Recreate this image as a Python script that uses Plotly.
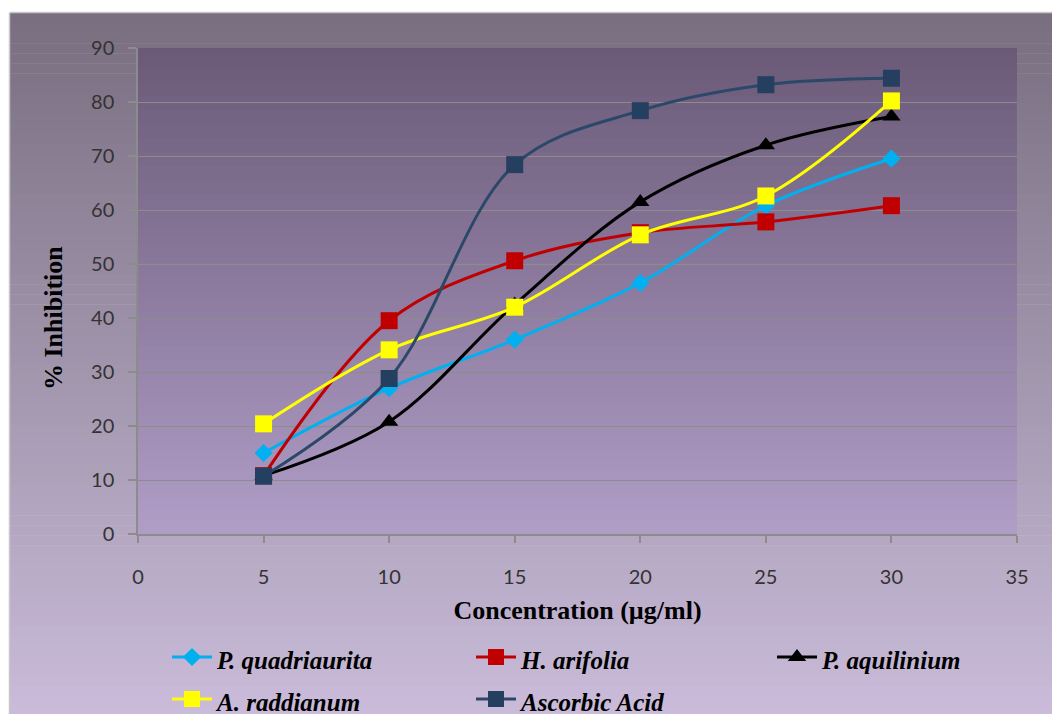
import plotly.graph_objects as go

concentration = [5, 10, 15, 20, 25, 30]
p_quadriaurita = [15.0, 27.0, 36.0, 46.5, 60.8, 69.5]
h_arifolia = [10.8, 39.5, 50.6, 55.8, 57.8, 60.8]
p_aquilinium = [10.8, 20.8, 42.5, 61.5, 72.0, 77.3]
a_raddianum = [20.4, 34.1, 42.0, 55.4, 62.6, 80.2]
ascorbic_acid = [10.7, 28.8, 68.4, 78.4, 83.2, 84.4]

series_names = ["P. quadriaurita", "H. arifolia", "P. aquilinium", "A. raddianum", "Ascorbic Acid"]
x_ticks = [0, 5, 10, 15, 20, 25, 30, 35]
y_ticks = [0, 10, 20, 30, 40, 50, 60, 70, 80, 90]
x_title = "Concentration (µg/ml)"
y_title = "% Inhibition"

W, H = 1052, 714
L, R, T, B = 138, 1017, 48, 534


def px_to_paper_x(px):
    return (px - L) / (R - L)


def px_to_paper_y(py):
    return (B - py) / (B - T)


def lerp(c1, c2, t):
    return tuple(int(round(a + (b - a) * t)) for a, b in zip(c1, c2))


def grad_shapes(x0, x1, y0, y1, ctop, cbot, n=70):
    shapes = []
    for i in range(n):
        ya = y0 + (y1 - y0) * i / n
        yb = y0 + (y1 - y0) * (i + 1) / n + 0.6
        c = lerp(ctop, cbot, (i + 0.5) / n)
        shapes.append(dict(type="rect", xref="paper", yref="paper",
                           x0=px_to_paper_x(x0), x1=px_to_paper_x(x1),
                           y0=px_to_paper_y(min(yb, y1)), y1=px_to_paper_y(ya),
                           fillcolor="rgb(%d,%d,%d)" % c, line=dict(width=0),
                           layer="below"))
    return shapes


shapes = []
shapes += grad_shapes(10, W + 2, 13, H + 2, (120, 110, 127), (202, 188, 218))
shapes += grad_shapes(L, R, T, B, (106, 90, 119), (176, 157, 199))
shapes.append(dict(type="line", xref="paper", yref="paper",
                   x0=px_to_paper_x(10), x1=px_to_paper_x(W + 2),
                   y0=px_to_paper_y(12.5), y1=px_to_paper_y(12.5),
                   line=dict(color="#c8c8c8", width=1.5), layer="below"))
shapes.append(dict(type="line", xref="paper", yref="paper",
                   x0=px_to_paper_x(9.5), x1=px_to_paper_x(9.5),
                   y0=px_to_paper_y(12.5), y1=px_to_paper_y(H + 2),
                   line=dict(color="#c8c8c8", width=1.5), layer="below"))

styles = [
    dict(color="#00b0f0", line="#00b0f0", symbol="diamond", size=14),
    dict(color="#c00000", line="#c00000", symbol="square", size=17),
    dict(color="#000000", line="#000000", symbol="triangle-up", size=16),
    dict(color="#ffff00", line="#ffff00", symbol="square", size=17),
    dict(color="#243f60", line="#2c4868", symbol="square", size=17),
]
data = [p_quadriaurita, h_arifolia, p_aquilinium, a_raddianum, ascorbic_acid]
# legend column for each series (3 columns, wrapping into a 2nd row)
legend_ids = ["legend", "legend2", "legend3", "legend", "legend2"]

fig = go.Figure()
for name, ys, st, lg in zip(series_names, data, styles, legend_ids):
    fig.add_trace(go.Scatter(
        x=concentration, y=ys,
        name="<span style='font-size:25px'><b><i>%s</i></b></span>" % name,
        mode="lines+markers", legend=lg,
        line=dict(color=st["line"], width=3, shape="spline", smoothing=1.0),
        marker=dict(color=st["color"], symbol=st["symbol"], size=st["size"],
                    line=dict(width=0)),
    ))


def legend_cfg(xpx):
    return dict(
        orientation="v", xref="container", yref="container",
        x=xpx / W, y=1 - 631 / H,
        xanchor="left", yanchor="top",
        bgcolor="rgba(0,0,0,0)",
        font=dict(family="Liberation Serif", size=30, color="#000000"),
        itemwidth=40, tracegroupgap=0,
    )


fig.update_layout(
    width=W, height=H,
    margin=dict(l=L, r=W - R, t=T, b=H - B, pad=0, autoexpand=False),
    paper_bgcolor="white",
    plot_bgcolor="rgba(0,0,0,0)",
    shapes=shapes,
    showlegend=True,
    legend=legend_cfg(167),
    legend2=legend_cfg(471),
    legend3=legend_cfg(772),
    font=dict(family="Lato", color="#333333"),
    annotations=[dict(
        text="<b>%s</b>" % y_title, textangle=-90,
        xref="paper", yref="paper", x=px_to_paper_x(53), y=px_to_paper_y(318),
        xanchor="center", yanchor="middle", showarrow=False,
        font=dict(family="Liberation Serif", size=26, color="#000000"),
    )],
)

fig.update_xaxes(
    range=[0, 35], tickvals=x_ticks, ticktext=[str(v) for v in x_ticks],
    showgrid=False, zeroline=False,
    showline=True, linecolor="#8c8c8c", linewidth=1.5,
    ticks="outside", ticklen=7, tickcolor="#8c8c8c", tickwidth=1.5,
    ticklabelstandoff=17,
    tickfont=dict(family="Lato", size=20, color="#333333"),
    title=dict(text="<b>%s</b>" % x_title, standoff=14,
               font=dict(family="Liberation Serif", size=26, color="#000000")),
)
fig.update_yaxes(
    range=[0, 90], tickvals=y_ticks, ticktext=[str(v) for v in y_ticks],
    showgrid=True, gridcolor="#8c8c8c", gridwidth=1.2,
    zeroline=False,
    showline=True, linecolor="#8c8c8c", linewidth=1.5,
    ticks="outside", ticklen=8, tickcolor="#8c8c8c", tickwidth=1.5,
    ticklabelstandoff=10,
    tickfont=dict(family="Lato", size=20, color="#333333"),
)

fig.write_html("out.html")
